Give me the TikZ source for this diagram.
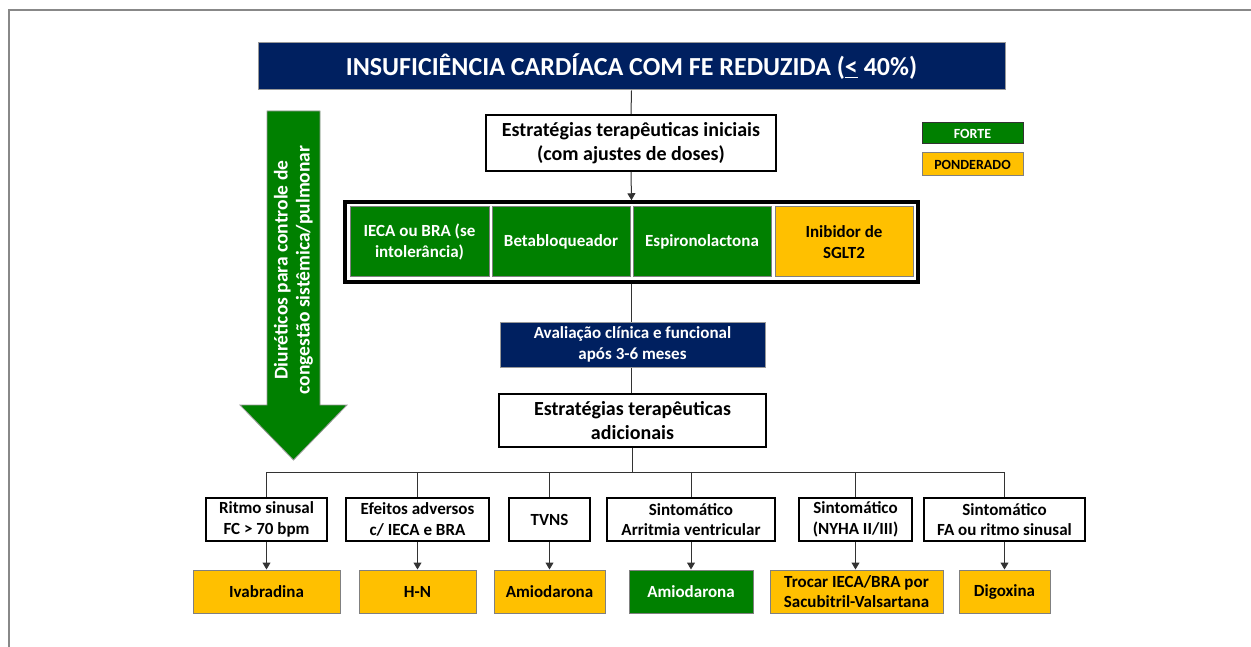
\documentclass[tikz,border=0pt]{standalone}
\usepackage{fontspec}
\setmainfont{Carlito}
\usetikzlibrary{arrows.meta}
\definecolor{navy}{HTML}{002060}
\definecolor{fgreen}{HTML}{008000}
\definecolor{pyellow}{HTML}{FFC000}
\definecolor{frame}{HTML}{888888}
\begin{document}
\begin{tikzpicture}[x=1pt,y=-1pt,font=\bfseries,
  conn/.style={draw=black!80,line width=1pt},
  arr/.style={conn,-{Triangle[length=7pt,width=8pt]}},
  wbox/.style={draw=black,line width=2pt,fill=white,inner sep=0pt,align=center},
  nbox/.style={draw=black!40,line width=1pt,fill=navy,text=white,inner sep=0pt,align=center},
  gcell/.style={draw=black!50,line width=1pt,fill=fgreen,text=white,inner sep=0pt,align=center},
  ycell/.style={draw=black!50,line width=1pt,fill=pyellow,text=black,inner sep=0pt,align=center},
  big/.style={font=\bfseries\fontsize{20}{24}\selectfont},
  med/.style={font=\bfseries\fontsize{17}{20.5}\selectfont}]
\useasboundingbox (0,0) rectangle (1251,647);
\draw[frame,line width=2pt] (8.5,647) -- (8.5,10) -- (1251,10);

% title
\node[nbox,minimum width=747pt,minimum height=47pt,font=\bfseries\fontsize{26}{30}\selectfont] (title) at (631.5,66.5)
  {INSUFICIÊNCIA CARDÍACA COM FE REDUZIDA (\underline{<} 40\%)};
\node[wbox,big,minimum width=290pt,minimum height=56pt] (init) at (631,143)
  {Estratégias terapêuticas iniciais\\(com ajustes de doses)};
\node[draw=black,line width=3.5pt,fill=white,minimum width=573pt,minimum height=80pt,inner sep=0pt] (outer) at (631.5,242) {};
\node[gcell,med,minimum width=139pt,minimum height=70pt] (c1) at (419.5,242) {IECA ou BRA (se\\intolerância)};
\node[gcell,med,minimum width=138pt,minimum height=70pt] (c2) at (561,242) {Betabloqueador};
\node[gcell,med,minimum width=138pt,minimum height=70pt] (c3) at (702,242) {Espironolactona};
\node[ycell,med,minimum width=138pt,minimum height=70pt] (c4) at (844,242) {Inibidor de\\SGLT2};

\node[nbox,med,minimum width=265pt,minimum height=45pt] (aval) at (632.5,344.5) {Avaliação clínica e funcional\\após 3-6 meses};
\node[wbox,big,minimum width=267pt,minimum height=53pt] (adic) at (632.5,420.5) {Estratégias terapêuticas\\adicionais};

% legend
\node[gcell,draw=black!80,font=\bfseries\fontsize{14}{16}\selectfont,minimum width=101pt,minimum height=21pt] (forte) at (972.5,133.5) {FORTE};
\node[ycell,font=\bfseries\fontsize{14}{16}\selectfont,minimum width=101pt,minimum height=23pt] (pond) at (972.5,164.5) {PONDERADO};

% green arrow
\draw[fill=fgreen,draw=black!40,line width=0.8pt] (267,111) -- (320,111) -- (320,405) -- (347,405) -- (293.5,460) -- (240,405) -- (267,405) -- cycle;
\node[rotate=90,text=white,align=center,font=\bfseries\fontsize{19.5}{22}\selectfont] (diur) at (293.5,270)
  {Diuréticos para controle de\\congestão sistêmica/pulmonar};

% row 2
\node[wbox,med,minimum width=121pt,minimum height=43pt] (r1) at (266.5,519.5) {Ritmo sinusal\\FC > 70 bpm};
\node[wbox,med,minimum width=143pt,minimum height=43pt] (r2) at (417.5,519.5) {Efeitos adversos\\c/ IECA e BRA};
\node[wbox,med,minimum width=81pt,minimum height=43pt] (r3) at (549.5,519.5) {TVNS};
\node[wbox,med,minimum width=168pt,minimum height=43pt] (r4) at (691,519.5) {Sintomático\\Arritmia ventricular};
\node[wbox,med,minimum width=113pt,minimum height=43pt] (r5) at (855.5,519.5) {Sintomático\\(NYHA II/III)};
\node[wbox,med,minimum width=161pt,minimum height=43pt] (r6) at (1004.5,519.5) {Sintomático\\FA ou ritmo sinusal};

% row 3
\node[ycell,med,minimum width=147pt,minimum height=43pt] (s1) at (266.5,591.5) {Ivabradina};
\node[ycell,med,minimum width=117pt,minimum height=43pt] (s2) at (417.5,591.5) {H-N};
\node[ycell,med,minimum width=111pt,minimum height=43pt] (s3) at (549.5,591.5) {Amiodarona};
\node[gcell,med,minimum width=124pt,minimum height=43pt] (s4) at (691,591.5) {Amiodarona};
\node[ycell,med,minimum width=173pt,minimum height=43pt] (s5) at (856.5,591.5) {Trocar IECA/BRA por\\Sacubitril-Valsartana};
\node[ycell,med,minimum width=91pt,minimum height=43pt] (s6) at (1004.5,591.5) {Digoxina};

% connectors
\draw[conn] (title.south) -- (init.north);
\draw[arr] (init.south) -- (outer.north);
\draw[conn] (outer.south) -- (aval.north -| outer.south);
\draw[conn] (aval.south -| outer.south) -- (adic.north -| outer.south);
\coordinate (busL) at (266.5,472);
\coordinate (busR) at (1004.5,472);
\coordinate (busC) at (632,472);
\draw[conn] (adic.south -| busC) -- (busC);
\draw[conn] (busL) -- (busR);
\foreach \r in {r1,r2,r3,r4,r5,r6} {\draw[conn] (\r.north) -- (\r.north |- busL);}
\draw[arr] (r1.south) -- (s1.north);
\draw[arr] (r2.south) -- (s2.north);
\draw[arr] (r3.south) -- (s3.north);
\draw[arr] (r4.south) -- (s4.north);
\draw[arr] (r5.south) -- (r5.south |- s5.north);
\draw[arr] (r6.south) -- (s6.north);
\end{tikzpicture}
\end{document}
